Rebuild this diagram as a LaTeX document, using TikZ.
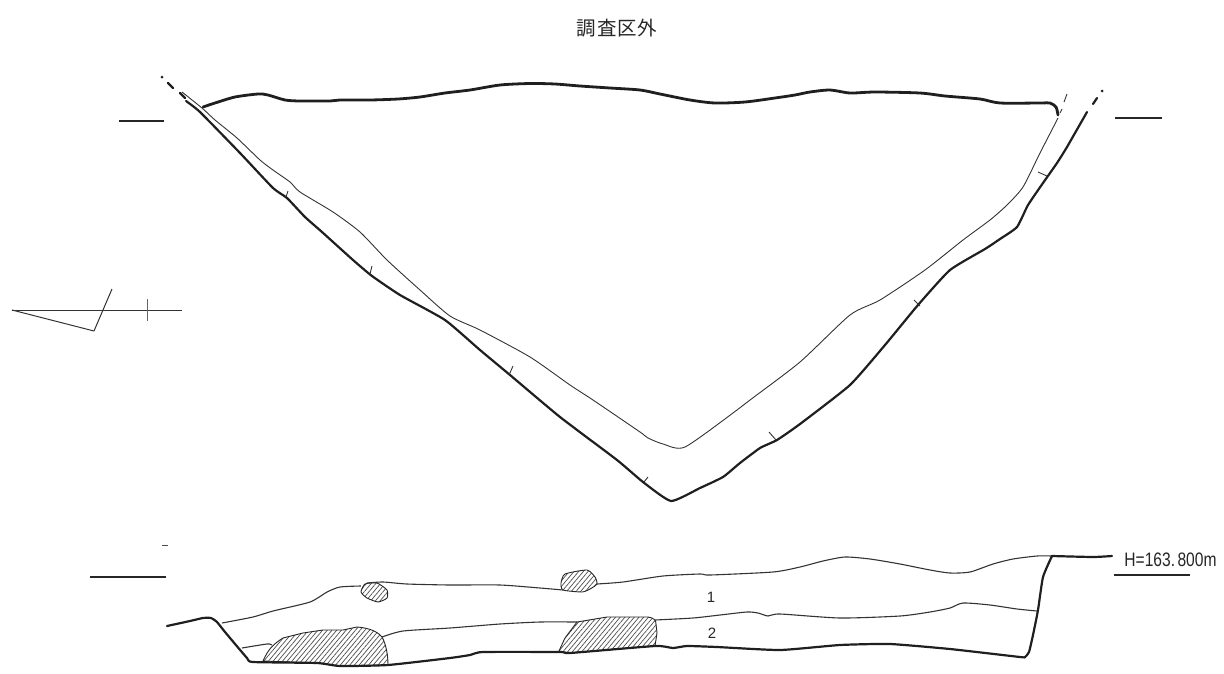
\documentclass[tikz,border=0pt]{standalone}
\usepackage{fontspec}
\setmainfont{Liberation Sans}
\newfontfamily\jpfont{Noto Sans CJK JP}
\usetikzlibrary{patterns.meta}
\tikzset{
  thickline/.style={line width=2.8pt,black!88,line join=round,line cap=round},
  midline/.style={line width=2.2pt,black!88,line join=round,line cap=round},
  thinline/.style={line width=.9pt,black!80,line join=round},
  layerline/.style={line width=1.1pt,black!80,line join=round},
  levelline/.style={line width=1.4pt,black!85},
  rock/.style={line width=.9pt,black!85,pattern={Lines[angle=50,distance=3.6pt,line width=.7pt]},pattern color=black!70},
  lab/.style={inner sep=0pt,text=black!85}
}
\begin{document}
\begin{tikzpicture}[x=1pt,y=-1pt]
\useasboundingbox (0,0) rectangle (1224,673);
\node[lab,font=\jpfont\fontsize{19.5}{20}\selectfont] (title) at (617,28) {調\hspace{1pt}査\hspace{1pt}区\hspace{1pt}外};
\node[lab,font=\fontsize{19.5}{20}\selectfont,xscale=.8,anchor=center] (hlabel) at (1170.5,560) {H=163.\hspace{3pt}800m};
\node[lab,font=\fontsize{15}{15}\selectfont] (one) at (711,597) {1};
\node[lab,font=\fontsize{15}{15}\selectfont] (two) at (712,633) {2};
% level marks
\draw[levelline] (119,121) -- (164,121);
\draw[levelline] (1115,118) -- (1162,118);
\draw[levelline] (90,577) -- (166,577);
\draw[line width=.8pt,black!70] (162,545) -- (168,545);
\draw[levelline] (1114,575) -- (1190,575);
% section key
\draw[thinline,line width=1pt] (12,310) -- (182,310);
\draw[thinline,line width=1pt] (12,310) -- (94,331) -- (112,289);
\draw[line width=1pt,black!60] (147,299) -- (147,321);
% upper section: top edge
\draw[thickline] plot[smooth,tension=.45] coordinates {(203,107) (215,103) (235,97) (258,94) (268,95) (285,100) (300,101) (330,101) (340,100) (370,100) (398,99) (420,97) (445,93) (470,90) (500,85) (530,83.5) (555,84) (580,86) (610,88) (640,90) (660,94) (690,100) (715,103) (745,102) (775,98) (795,95) (810,92) (830,90) (850,93) (875,92) (920,93) (945,96) (980,99) (1000,103) (1040,103) (1050,103) (1056,107) (1058,115)};
% upper section: bottom edge
\draw[midline] plot[smooth,tension=.3] coordinates {(186,101) (200,112) (240,153) (273,188) (287,198) (305,217) (322,232) (353,260) (372,276) (400,295) (445,320) (480,350) (510,375) (560,417) (617,460) (643,482) (671,501) (700,488) (723,477) (740,463) (760,448) (777,440) (800,424) (850,385) (885,345) (918,305) (950,270) (985,249) (1000,239) (1017,227) (1028,205) (1043,183) (1057,163) (1067,147) (1087,112)};
\draw[midline] (180,93) -- (185,98);
\draw[midline] (168,83) -- (173,88);
\draw[midline] (1093,104) -- (1097,98);
\fill[black!88] (162,77) circle (1.5);
\fill[black!88] (1102,91) circle (1.5);
% upper section: inner line
\draw[thinline] plot[smooth,tension=.4] coordinates {(182,92) (202,108) (215,120) (237,138) (260,160) (273,170) (290,182) (300,192) (333,212) (360,232) (387,260) (420,290) (450,316) (480,330) (530,357) (570,385) (593,400) (640,432) (648,438) (663,444) (685,447) (737,410) (750,400) (800,362) (850,315) (880,300) (925,270) (963,240) (990,220) (1007,205) (1023,187) (1040,153) (1058,118)};
\draw[thinline] (1060,113) -- (1062,109);
\draw[thinline] (1064,102) -- (1067,94);
% ticks
\draw[thinline] (288,191) -- (286,197);
\draw[thinline] (372,266) -- (370,274);
\draw[thinline] (513,366) -- (509,375);
\draw[thinline] (648,477) -- (644,482);
\draw[thinline] (769,432) -- (776,440);
\draw[thinline] (914,300) -- (920,306);
\draw[thinline] (1038,172) -- (1047,176);
% lower section: rocks
\draw[rock] plot[smooth cycle,tension=.35] coordinates {(361,592) (365,584) (377,583) (387,590) (387,598) (378,602) (367,598)};
\draw[rock] plot[smooth cycle,tension=.35] coordinates {(561,583) (565,574) (587,570) (595,577) (597,584) (590,589) (582,592) (563,590)};
\draw[rock] (263,661) .. controls (268,650) and (272,645) .. (283,638) -- (303,633) -- (323,630) -- (343,630) -- (357,627) .. controls (370,628) and (378,632) .. (382,637) .. controls (386,644) and (388,655) .. (388,665) -- (340,666) -- (317,663) -- cycle;
\draw[rock] (559,651) -- (565,638) -- (577,622) -- (607,617) -- (648,617) .. controls (654,618) and (656,620) .. (656,624) -- (657,633) -- (655,646) -- (570,653) -- cycle;
% lower section: layer lines
\draw[layerline] plot[smooth,tension=.4] coordinates {(222,623) (253,617) (273,611) (310,602) (327,592) (340,587) (361,586)};
\draw[layerline] plot[smooth,tension=.4] coordinates {(367,583) (383,582) (407,584) (450,585) (500,585) (540,588) (563,590)};
\draw[layerline] plot[smooth,tension=.4] coordinates {(597,584) (623,582) (663,576) (700,574) (710,575) (773,572) (800,567) (823,561) (845,557) (870,559) (900,564) (930,570) (950,573) (970,572) (993,564) (1013,559) (1037,556) (1052,556)};
\draw[layerline] plot[smooth,tension=.4] coordinates {(242,648) (267,644) (272,645)};
\draw[layerline] plot[smooth,tension=.4] coordinates {(382,637) (403,631) (450,628) (500,624) (540,622) (577,622)};
\draw[layerline] plot[smooth,tension=.4] coordinates {(655,620) (693,618) (720,615) (747,612) (758,613) (768,616) (780,614) (840,618) (900,616) (930,612) (950,608) (963,603) (990,605) (1017,609) (1037,611)};
% lower section: outline
\draw[midline] plot[smooth,tension=.3] coordinates {(167,626) (190,621) (203,618) (211,618) (217,622) (225,632) (247,658) (253,662) (317,663) (340,666) (388,665) (450,658) (470,655) (483,652) (560,652) (570,653) (655,646) (673,648) (687,646) (717,647) (780,650) (840,645) (890,644) (950,649) (1020,657) (1025,657) (1029,652) (1033,635) (1038,610) (1043,577) (1052,556)};
\draw[midline] plot[smooth,tension=.3] coordinates {(1052,556) (1093,557) (1112,556)};
\end{tikzpicture}
\end{document}
